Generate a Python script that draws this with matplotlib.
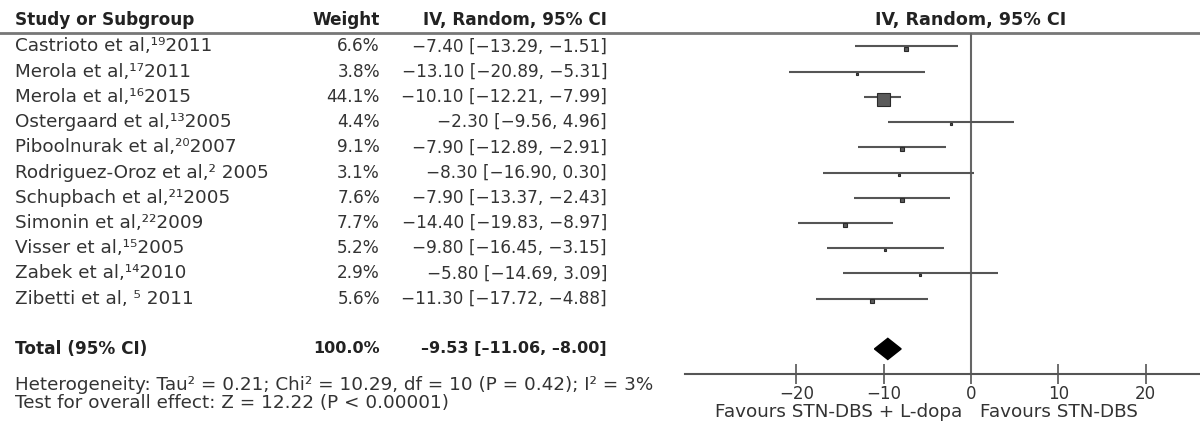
import matplotlib
matplotlib.use("Agg")
import matplotlib.pyplot as plt
from matplotlib.transforms import blended_transform_factory
from matplotlib.patches import Polygon
import numpy as np

# ---------------- data ----------------
authors = ["Castrioto et al,", "Merola et al,", "Merola et al,", "Ostergaard et al,",
           "Piboolnurak et al,", "Rodriguez-Oroz et al,", "Schupbach et al,",
           "Simonin et al,", "Visser et al,", "Zabek et al,", "Zibetti et al,"]
refs = ["¹⁹", "¹⁷", "¹⁶", "¹³", "²⁰", "² ", "²¹", "²²", "¹⁵", "¹⁴", " ⁵ "]
years = ["2011", "2011", "2015", "2005", "2007", "2005", "2005", "2009", "2005", "2010", "2011"]
weights = [6.6, 3.8, 44.1, 4.4, 9.1, 3.1, 7.6, 7.7, 5.2, 2.9, 5.6]
means = [-7.40, -13.10, -10.10, -2.30, -7.90, -8.30, -7.90, -14.40, -9.80, -5.80, -11.30]
lows = [-13.29, -20.89, -12.21, -9.56, -12.89, -16.90, -13.37, -19.83, -16.45, -14.69, -17.72]
highs = [-1.51, -5.31, -7.99, 4.96, -2.91, 0.30, -2.43, -8.97, -3.15, 3.09, -4.88]
total_weight = 100.0
total_mean, total_low, total_high = -9.53, -11.06, -8.00
xticks = [-20, -10, 0, 10, 20]
heterogeneity = "Heterogeneity: Tau² = 0.21; Chi² = 10.29, df = 10 (P = 0.42); I² = 3%"
overall = "Test for overall effect: Z = 12.22 (P < 0.00001)"
left_label = "Favours STN-DBS + L-dopa"
right_label = "Favours STN-DBS"

# ---------------- figure ----------------
plt.rcParams['font.family'] = ['DejaVu Sans']
W, H = 1200, 423
fig = plt.figure(figsize=(W / 100, H / 100), dpi=100)
ax = fig.add_axes([685 / W, 0, 1 - 685 / W, 1])
ax.set_xlim(-32.76, 26.23)
ax.set_ylim(14.94, -1.845)
for s in ['top', 'left', 'right']:
    ax.spines[s].set_visible(False)
ax.spines['bottom'].set_position(('data', 13))
ax.spines['bottom'].set_color('#555555')
ax.spines['bottom'].set_linewidth(1.5)
ax.set_yticks([])
ax.set_xticks(xticks)
ax.set_xticklabels([f"{t}".replace("-", "\u2212") for t in xticks])
ax.tick_params(axis='x', direction='inout', length=14, width=1.2, color='#555555',
               labelsize=12, labelcolor='#333333', pad=1)
ax.patch.set_visible(False)

fs_txt = 13.2     # study names / footer
fs_num = 12.2     # weights and CI numbers
fs_head = 12.2
fs_boldnum = 11.5
tc = '#333333'
bc = '#222222'
tr = blended_transform_factory(fig.transFigure, ax.transData)
xname, xweight, xci = 15 / W, 380 / W, 607 / W

def fmt(v, dash="\u2212"):
    return f"{v:.2f}".replace("-", dash)

# header
hy = -1.05
ax.text(xname, hy, "Study or Subgroup", transform=tr, ha='left', va='center',
        fontsize=fs_head, fontweight='bold', color=bc)
ax.text(xweight, hy, "Weight", transform=tr, ha='right', va='center',
        fontsize=fs_head, fontweight='bold', color=bc)
ax.text(xci, hy, "IV, Random, 95% CI", transform=tr, ha='right', va='center',
        fontsize=fs_head, fontweight='bold', color=bc)
ax.text(0, hy, "IV, Random, 95% CI", ha='center', va='center',
        fontsize=12.6, fontweight='bold', color=bc)
ax.plot([0, 1], [-0.536, -0.536], transform=tr, color='#777777', lw=2.0,
        clip_on=False)

# vertical null line
ax.vlines(0, -0.536, 13, color='#666666', lw=1.5)

# study rows
for i in range(len(authors)):
    ax.text(xname, i, f"{authors[i]}{refs[i]}{years[i]}", transform=tr, ha='left',
            va='center', fontsize=fs_txt, color=tc)
    ax.text(xweight, i, f"{weights[i]:.1f}%", transform=tr, ha='right',
            va='center', fontsize=fs_num, color=tc)
    ax.text(xci, i, f"{fmt(means[i])} [{fmt(lows[i])}, {fmt(highs[i])}]",
            transform=tr, ha='right', va='center', fontsize=fs_num, color=tc)
    ax.plot([lows[i], highs[i]], [i, i], color='#555555', lw=1.5, solid_capstyle='butt')
    side_px = 13 * (weights[i] / max(weights)) ** 0.7
    ax.plot(means[i], i + 0.08, marker='s', markersize=max(side_px, 2.6) * 0.72,
            color='#5a5a5a', markeredgecolor='#2a2a2a', markeredgewidth=0.8)

# total row
ti = 12
ax.text(xname, ti, "Total (95% CI)", transform=tr, ha='left', va='center',
        fontsize=fs_head, fontweight='bold', color=bc)
ax.text(xweight, ti, f"{total_weight:.1f}%", transform=tr, ha='right', va='center',
        fontsize=fs_boldnum, fontweight='bold', color=bc)
ax.text(xci, ti, f"{fmt(total_mean, chr(8211))} [{fmt(total_low, chr(8211))}, "
                 f"{fmt(total_high, chr(8211))}]",
        transform=tr, ha='right', va='center', fontsize=fs_boldnum, fontweight='bold',
        color=bc)
diamond = Polygon([[total_low, ti], [total_mean, ti - 0.42], [total_high, ti],
                   [total_mean, ti + 0.42]], closed=True, facecolor='black',
                  edgecolor='black')
ax.add_patch(diamond)

# footer text
ax.text(xname, 13.43, heterogeneity, transform=tr, ha='left', va='center',
        fontsize=fs_txt, color=tc)
ax.text(xname, 14.15, overall, transform=tr, ha='left', va='center',
        fontsize=fs_txt, color=tc)
ax.text(-1.03, 14.5, left_label, ha='right', va='center', fontsize=fs_txt, color=tc)
ax.text(1.03, 14.5, right_label, ha='left', va='center', fontsize=fs_txt, color=tc)

fig.savefig("out.png", dpi=100)
